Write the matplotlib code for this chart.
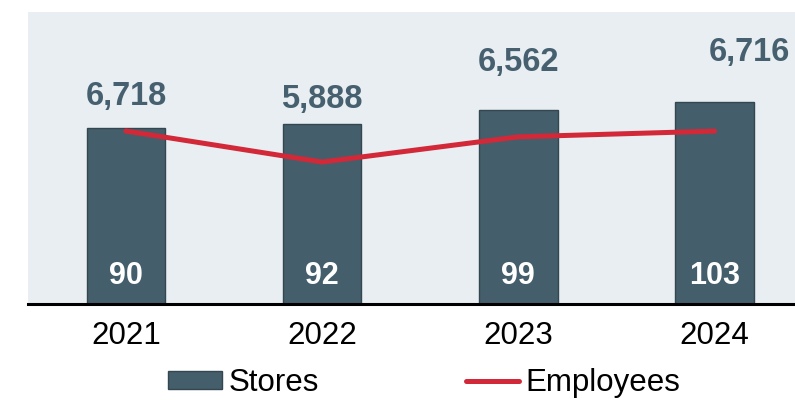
import numpy as np
import matplotlib.pyplot as plt
from matplotlib.patches import Patch
from matplotlib.lines import Line2D

plt.rcParams['font.family'] = ['Liberation Sans', 'DejaVu Sans']

years = ['2021', '2022', '2023', '2024']
stores = [90, 92, 99, 103]
employees = [6718, 5888, 6562, 6716]

bar_color = '#455e6b'
line_color = '#d22838'
label_color = '#466070'
bg_color = '#e8eef1'

# how far above each bar the employee figure sits (in store units), and sideways nudge
emp_label_lift = [16, 12.3, 24.3, 25.4]
emp_label_dx = [0, 0, 0, 0.18]

fig = plt.figure(figsize=(7.95, 4.0), dpi=100)
ax = fig.add_axes([0.035, 0.24, 0.965, 0.73])
ax.set_facecolor(bg_color)

x = np.arange(len(years))
ax.bar(x, stores, width=0.4, color=bar_color, edgecolor='#34464f', linewidth=1.0, zorder=2)
ax.set_xlim(-0.5, 3.41)
ax.set_ylim(0, 149)

# store counts inside the bars
for xi, s in zip(x, stores):
    ax.text(xi, 14.3, str(s), ha='center', va='center', color='white',
            fontsize=22, fontweight='bold', zorder=4)

# employee counts above the bars
for xi, s, e, lift, dx in zip(x, stores, employees, emp_label_lift, emp_label_dx):
    ax.text(xi + dx, s + lift, f'{e:,}', ha='center', va='center', color=label_color,
            fontsize=23.5, fontweight='bold', zorder=4)

ax2 = ax.twinx()
ax2.plot(x, employees, color=line_color, linewidth=3.6, solid_capstyle='round',
         solid_joinstyle='miter', zorder=3)
ax2.set_ylim(2086, 9905)
ax2.set_yticks([])

for a in (ax, ax2):
    for side in ('top', 'right', 'left', 'bottom'):
        a.spines[side].set_visible(False)

ax.axhline(0, color='black', linewidth=2.2, zorder=5, clip_on=False)
ax.set_yticks([])
ax.set_xticks(x)
ax.set_xticklabels(years, fontsize=22.5)
ax.tick_params(axis='x', length=0, pad=12)

handles = [Patch(facecolor=bar_color, edgecolor='#34464f', label='Stores'),
           Line2D([0], [0], color=line_color, linewidth=3.6, solid_capstyle='round',
                  label='Employees')]
fig.legend(handles=handles, loc='center', bbox_to_anchor=(0.534, 0.043), ncol=2,
           frameon=False, fontsize=22.5, handlelength=1.7, handleheight=0.5,
           handletextpad=0.22, columnspacing=4.7, borderaxespad=0)

fig.savefig('out.png', dpi=100, facecolor='white')
